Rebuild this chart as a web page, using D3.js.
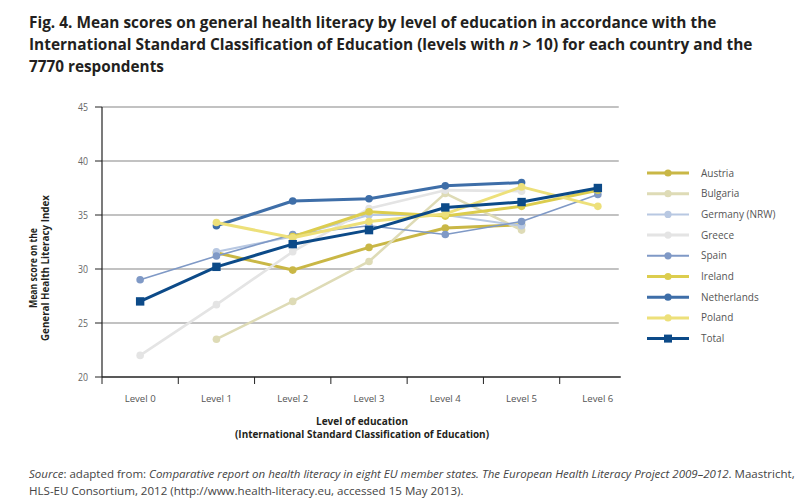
<!DOCTYPE html>
<html><head><meta charset="utf-8">
<script src="https://cdn.jsdelivr.net/npm/d3@7"></script>
<style>
html,body{margin:0;padding:0;background:#fff;}
svg{display:block;font-family:"Open Sans",sans-serif;}
</style></head>
<body>
<svg id="c" width="800" height="504"></svg>
<script>
const levels = ["Level 0","Level 1","Level 2","Level 3","Level 4","Level 5","Level 6"];
const yTicks = [20,25,30,35,40,45];
const seriesNames = ["Austria","Bulgaria","Germany (NRW)","Greece","Spain","Ireland","Netherlands","Poland","Total"];
const austria     = [null, 31.5, 29.9, 32.0, 33.8, 34.1, null];
const bulgaria    = [null, 23.5, 27.0, 30.7, 37.0, 33.6, null];
const germany     = [null, 31.6, 33.0, 35.0, 35.0, 34.0, null];
const greece      = [22.0, 26.7, 31.6, 35.6, 37.3, 37.2, null];
const spain       = [29.0, 31.2, 33.2, 34.0, 33.2, 34.4, 36.9];
const ireland     = [null, null, 33.0, 35.3, 34.9, 35.8, 37.3];
const netherlands = [null, 34.0, 36.3, 36.5, 37.7, 38.0, null];
const poland      = [null, 34.3, 32.9, 34.4, 35.1, 37.6, 35.8];
const total       = [27.0, 30.2, 32.3, 33.6, 35.7, 36.2, 37.5];
const seriesValues = [austria,bulgaria,germany,greece,spain,ireland,netherlands,poland,total];

const colors = ["#c9b746","#dedbb6","#b8c8e2","#e4e4e4","#7f99c6","#dccd4e","#3e6ea8","#ede07a","#0c4a88"];
const widths = [3,2.6,2,2.6,1.6,3,3,3,3];

const svg = d3.select("#c");
const x = d3.scaleBand().domain(levels).range([102,636]).paddingInner(0).paddingOuter(0);
const y = d3.scaleLinear().domain([20,45]).range([377,107]);
const cx = d => x(d) + x.bandwidth()/2;
const x0 = x.range()[0];
const xEnd = x0 + x.step()*6.8;

// horizontally scale a left-anchored text to a target width
function fit(sel, left, target){
  const w = sel.node().getComputedTextLength();
  const k = target / w;
  sel.attr("transform", `translate(${left},0) scale(${k},1) translate(${-left},0)`);
}

// title
const title = svg.append("g").attr("fill","#231f20").attr("font-weight","bold").attr("font-size",16);
const t1 = title.append("text").attr("x",29).attr("y",28)
  .text("Fig. 4. Mean scores on general health literacy by level of education in accordance with the");
fit(t1,29,688);
const t2 = title.append("text").attr("x",29).attr("y",50);
t2.append("tspan").text("International Standard Classification of Education (levels with ");
t2.append("tspan").attr("font-style","italic").text("n");
t2.append("tspan").text(" > 10) for each country and the");
fit(t2,29,724);
const t3 = title.append("text").attr("x",29).attr("y",72).text("7770 respondents");
fit(t3,29,135);

// gridlines
svg.append("g").selectAll("line").data(yTicks.filter(v=>v>20)).join("line")
  .attr("x1",x0).attr("x2",xEnd-2).attr("y1",d=>y(d)).attr("y2",d=>y(d))
  .attr("stroke","#858585").attr("stroke-width",1.2);

// y axis
const ya = svg.append("g");
ya.append("line").attr("x1",x0).attr("x2",x0).attr("y1",y(45)).attr("y2",y(20)).attr("stroke","#222").attr("stroke-width",1.2);
ya.selectAll("line.t").data(yTicks).join("line").attr("class","t")
  .attr("x1",x0-7).attr("x2",x0).attr("y1",d=>y(d)).attr("y2",d=>y(d)).attr("stroke","#222").attr("stroke-width",1);
ya.selectAll("text").data(yTicks).join("text")
  .attr("x",x0-14).attr("y",d=>y(d)+3.5).attr("text-anchor","end")
  .attr("font-size",10).attr("fill","#666").attr("textLength",10).attr("lengthAdjust","spacingAndGlyphs").text(d=>d);

// x axis
const xa = svg.append("g");
xa.append("line").attr("x1",x0).attr("x2",xEnd).attr("y1",y(20)).attr("y2",y(20)).attr("stroke","#222").attr("stroke-width",1.3);
xa.selectAll("line.t").data(levels).join("line").attr("class","t")
  .attr("x1",d=>x(d)).attr("x2",d=>x(d)).attr("y1",y(20)).attr("y2",y(20)+7).attr("stroke","#222").attr("stroke-width",1);
xa.selectAll("text").data(levels).join("text")
  .attr("x",d=>cx(d)).attr("y",y(20)+25).attr("text-anchor","middle")
  .attr("font-size",9.5).attr("fill","#555").attr("textLength",31).attr("lengthAdjust","spacingAndGlyphs").text(d=>d);

// axis titles
const xt = svg.append("g").attr("font-weight","bold").attr("font-size",10).attr("fill","#231f20").attr("text-anchor","middle");
xt.append("text").attr("x",362).attr("y",425).attr("textLength",92).attr("lengthAdjust","spacingAndGlyphs").text("Level of education");
xt.append("text").attr("x",362).attr("y",438).attr("textLength",254).attr("lengthAdjust","spacingAndGlyphs").text("(International Standard Classification of Education)");
const ytg = svg.append("g").attr("transform","translate(0,268) rotate(-90)")
  .attr("font-weight","bold").attr("font-size",10).attr("fill","#231f20").attr("text-anchor","middle");
ytg.append("text").attr("x",0).attr("y",37).attr("textLength",80).attr("lengthAdjust","spacingAndGlyphs").text("Mean score on the");
ytg.append("text").attr("x",0).attr("y",48.5).attr("textLength",146).attr("lengthAdjust","spacingAndGlyphs").text("General Health Literacy Index");

// lines
const line = d3.line().defined(d=>d.v!=null).x(d=>cx(d.l)).y(d=>y(d.v));
const series = seriesNames.map((n,i)=>({name:n,color:colors[i],w:widths[i],pts:levels.map((l,j)=>({l:l,v:seriesValues[i][j]}))}));
const plot = svg.append("g");
series.forEach((s,i)=>{
  const g = plot.append("g");
  g.append("path").attr("d",line(s.pts)).attr("fill","none").attr("stroke",s.color).attr("stroke-width",s.w).attr("stroke-linejoin","round");
  const pts = s.pts.filter(d=>d.v!=null);
  if(s.name==="Total"){
    g.selectAll("rect").data(pts).join("rect").attr("x",d=>cx(d.l)-4.2).attr("y",d=>y(d.v)-4.2)
      .attr("width",8.4).attr("height",8.4).attr("fill",s.color);
  } else {
    g.selectAll("circle").data(pts).join("circle").attr("cx",d=>cx(d.l)).attr("cy",d=>y(d.v)).attr("r",3.8).attr("fill",s.color);
  }
});

// legend
const lg = svg.append("g");
series.forEach((s,i)=>{
  const yy = 173 + i*20.7;
  const g = lg.append("g").attr("transform",`translate(0,${yy})`);
  g.append("line").attr("x1",647).attr("x2",689).attr("y1",0).attr("y2",0).attr("stroke",s.color).attr("stroke-width",s.w<2.5?2:3);
  if(s.name==="Total") g.append("rect").attr("x",664).attr("y",-4).attr("width",8).attr("height",8).attr("fill",s.color);
  else g.append("circle").attr("cx",668).attr("cy",0).attr("r",3.6).attr("fill",s.color);
  g.append("text").attr("x",701).attr("y",3.5).attr("font-size",10).attr("fill","#555").text(s.name);
});

// footer
const f = svg.append("g").attr("font-size",11).attr("fill","#444");
const f1 = f.append("text").attr("x",29).attr("y",478);
f1.append("tspan").attr("font-style","italic").text("Source");
f1.append("tspan").text(": adapted from: ");
f1.append("tspan").attr("font-style","italic").text("Comparative report on health literacy in eight EU member states. The European Health Literacy Project 2009–2012");
f1.append("tspan").text(". Maastricht,");
fit(f1,29,767);
const f2 = f.append("text").attr("x",29).attr("y",495)
  .text("HLS-EU Consortium, 2012 (http://www.health-literacy.eu, accessed 15 May 2013).");
fit(f2,29,435);
</script>
</body></html>
